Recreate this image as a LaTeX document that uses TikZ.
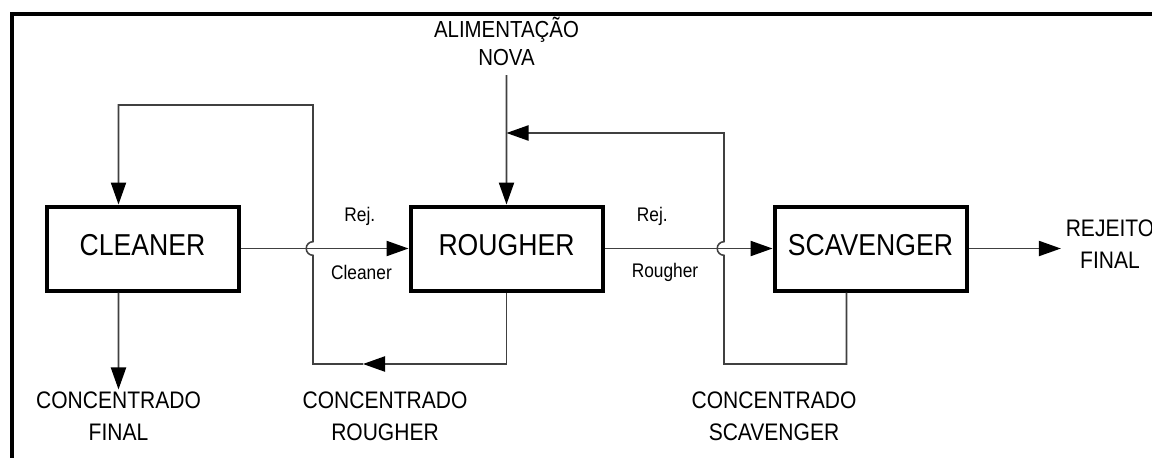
\documentclass[tikz,border=0pt]{standalone}
\usepackage{fontspec}
\setsansfont{Liberation Sans}[FakeStretch=0.88]
\usetikzlibrary{arrows.meta,positioning,calc}

\begin{document}
\begin{tikzpicture}[
    box/.style={draw, line width=0.1cm, minimum width=4.8cm,
                minimum height=2.1cm, text depth=0.2cm,
                font=\sffamily\fontsize{21.5}{24}\selectfont},
    lbl/.style={align=center, font=\sffamily\fontsize{17}{22.5}\selectfont},
    tag/.style={font=\sffamily\fontsize{14}{16}\selectfont},
    flow/.style={draw=black!75, line width=1.1pt},
    arr/.style={-{Triangle[length=0.55cm, width=0.38cm, color=black]}},
    node distance=2cm and 4.2cm
  ]
  \useasboundingbox (0,0) rectangle (28.8,-11.425);
  % frame
  \draw[line width=0.09cm] (0.3,-11.6) -- (0.3,-0.35) -- (29,-0.35);

  \node[box] (cleaner) at (3.5625,-6.2125) {CLEANER};
  \node[box, right=of cleaner] (rougher) {ROUGHER};
  \node[box, right=of rougher] (scavenger) {SCAVENGER};

  \node[lbl, font=\sffamily\fontsize{16.5}{20}\selectfont, anchor=south,
        inner sep=0.22cm] (feed) at (12.6625,-1.875) {ALIMENTAÇÃO\\NOVA};
  \node[lbl, inner sep=1.5pt] (cfinal) at (2.9625,-10.4) {CONCENTRADO\\FINAL};
  \node[lbl] (crougher) at (9.625,-10.4) {CONCENTRADO\\ROUGHER};
  \node[lbl] (cscav) at (19.35,-10.4) {CONCENTRADO\\SCAVENGER};
  \node[lbl] (rfinal) at (27.75,-6.1) {REJEITO\\FINAL};

  \coordinate (crTip) at (9.075,-9.1);
  \coordinate (crLow) at (7.825,-9.1);
  \coordinate (crHigh) at (7.825,-2.625);
  \coordinate (csLow) at (18.1,-9.1);
  \coordinate (csHigh) at (18.1,-3.325);

  % main line
  \draw[flow, arr] (feed.south) -- (rougher.north);
  \draw[flow, arr] (cleaner) -- node[tag, pos=0.71, yshift=0.79cm] {Rej.}
    node[tag, pos=0.72, yshift=-0.61cm] {Cleaner} (rougher);
  \draw[flow, arr] (rougher) -- node[tag, pos=0.285, yshift=0.79cm] {Rej.}
    node[tag, pos=0.36, yshift=-0.61cm] {Rougher} (scavenger);
  \draw[flow, arr] (scavenger) -- (scavenger -| rfinal.west);
  \draw[flow, arr] ([xshift=-0.6cm]cleaner.south) -- (cfinal.north);

  % recirculation
  \draw[flow, arr] (rougher.south) |- (crTip);
  \draw[flow, arr] (crTip) -- (crLow) -- ($(crLow |- cleaner.east)+(0,-0.17)$)
    arc[start angle=270, end angle=90, radius=0.17cm]
    -- (crHigh) -| ([xshift=-0.6cm]cleaner.north);
  \draw[flow, arr] ([xshift=-0.6cm]scavenger.south) |- (csLow)
    -- ($(csLow |- scavenger.west)+(0,-0.17)$)
    arc[start angle=270, end angle=90, radius=0.17cm]
    -- (csHigh) -- (csHigh -| feed.south);
\end{tikzpicture}
\end{document}
